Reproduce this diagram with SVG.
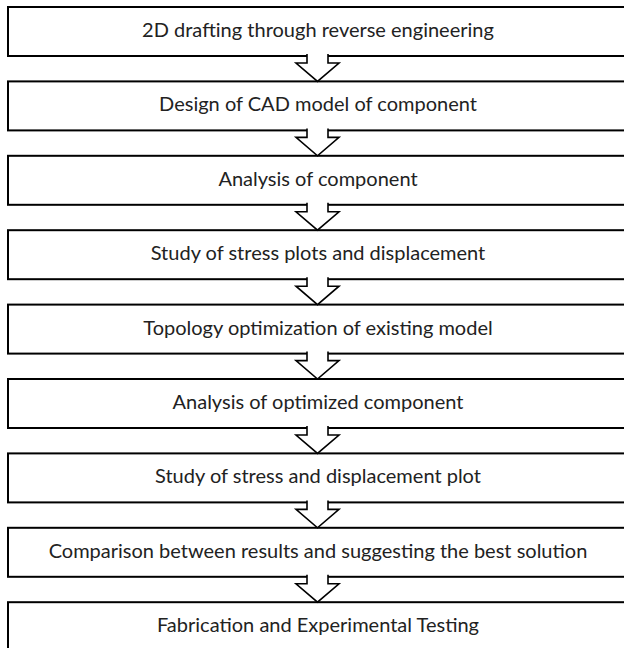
<svg xmlns="http://www.w3.org/2000/svg" width="624" height="648" viewBox="0 0 624 648">
  <style>
    .box { fill: #ffffff; stroke: #000000; stroke-width: 2; }
    .lbl { font-family: Lato, "Open Sans", "Liberation Sans", sans-serif; font-size: 20px; fill: #222222; text-anchor: middle; }
    .arrow { fill: #ffffff; stroke: #000000; stroke-width: 1.6; stroke-linejoin: miter; }
  </style>
  <rect width="624" height="648" fill="#ffffff"/>

  <g id="step1"><rect class="box" x="8" y="7" width="630" height="49"/><text class="lbl" x="318" y="37">2D drafting through reverse engineering</text></g>
  <g id="step2"><rect class="box" x="8" y="81.4" width="630" height="49"/><text class="lbl" x="318" y="111.4">Design of CAD model of component</text></g>
  <g id="step3"><rect class="box" x="8" y="155.8" width="630" height="49"/><text class="lbl" x="318" y="185.8">Analysis of component</text></g>
  <g id="step4"><rect class="box" x="8" y="230.2" width="630" height="49"/><text class="lbl" x="318" y="260.2">Study of stress plots and displacement</text></g>
  <g id="step5"><rect class="box" x="8" y="304.6" width="630" height="49"/><text class="lbl" x="318" y="334.6">Topology optimization of existing model</text></g>
  <g id="step6"><rect class="box" x="8" y="379" width="630" height="49"/><text class="lbl" x="318" y="409">Analysis of optimized component</text></g>
  <g id="step7"><rect class="box" x="8" y="453.4" width="630" height="49"/><text class="lbl" x="318" y="483.4">Study of stress and displacement plot</text></g>
  <g id="step8"><rect class="box" x="8" y="527.8" width="630" height="49"/><text class="lbl" x="318" y="557.8">Comparison between results and suggesting the best solution</text></g>
  <g id="step9"><rect class="box" x="8" y="602.2" width="630" height="49"/><text class="lbl" x="318" y="632.2">Fabrication and Experimental Testing</text></g>

  <!-- block arrows between consecutive steps -->
  <g id="connectors">
    <path class="arrow" d="M307,54 L307,63 L296,63 L317.5,81.4 L339,63 L328,63 L328,54"/>
    <path class="arrow" d="M307,128.4 L307,137.4 L296,137.4 L317.5,155.8 L339,137.4 L328,137.4 L328,128.4"/>
    <path class="arrow" d="M307,202.8 L307,211.8 L296,211.8 L317.5,230.2 L339,211.8 L328,211.8 L328,202.8"/>
    <path class="arrow" d="M307,277.2 L307,286.2 L296,286.2 L317.5,304.6 L339,286.2 L328,286.2 L328,277.2"/>
    <path class="arrow" d="M307,351.6 L307,360.6 L296,360.6 L317.5,379 L339,360.6 L328,360.6 L328,351.6"/>
    <path class="arrow" d="M307,426 L307,435 L296,435 L317.5,453.4 L339,435 L328,435 L328,426"/>
    <path class="arrow" d="M307,500.4 L307,509.4 L296,509.4 L317.5,527.8 L339,509.4 L328,509.4 L328,500.4"/>
    <path class="arrow" d="M307,574.8 L307,583.8 L296,583.8 L317.5,602.2 L339,583.8 L328,583.8 L328,574.8"/>
  </g>
</svg>
